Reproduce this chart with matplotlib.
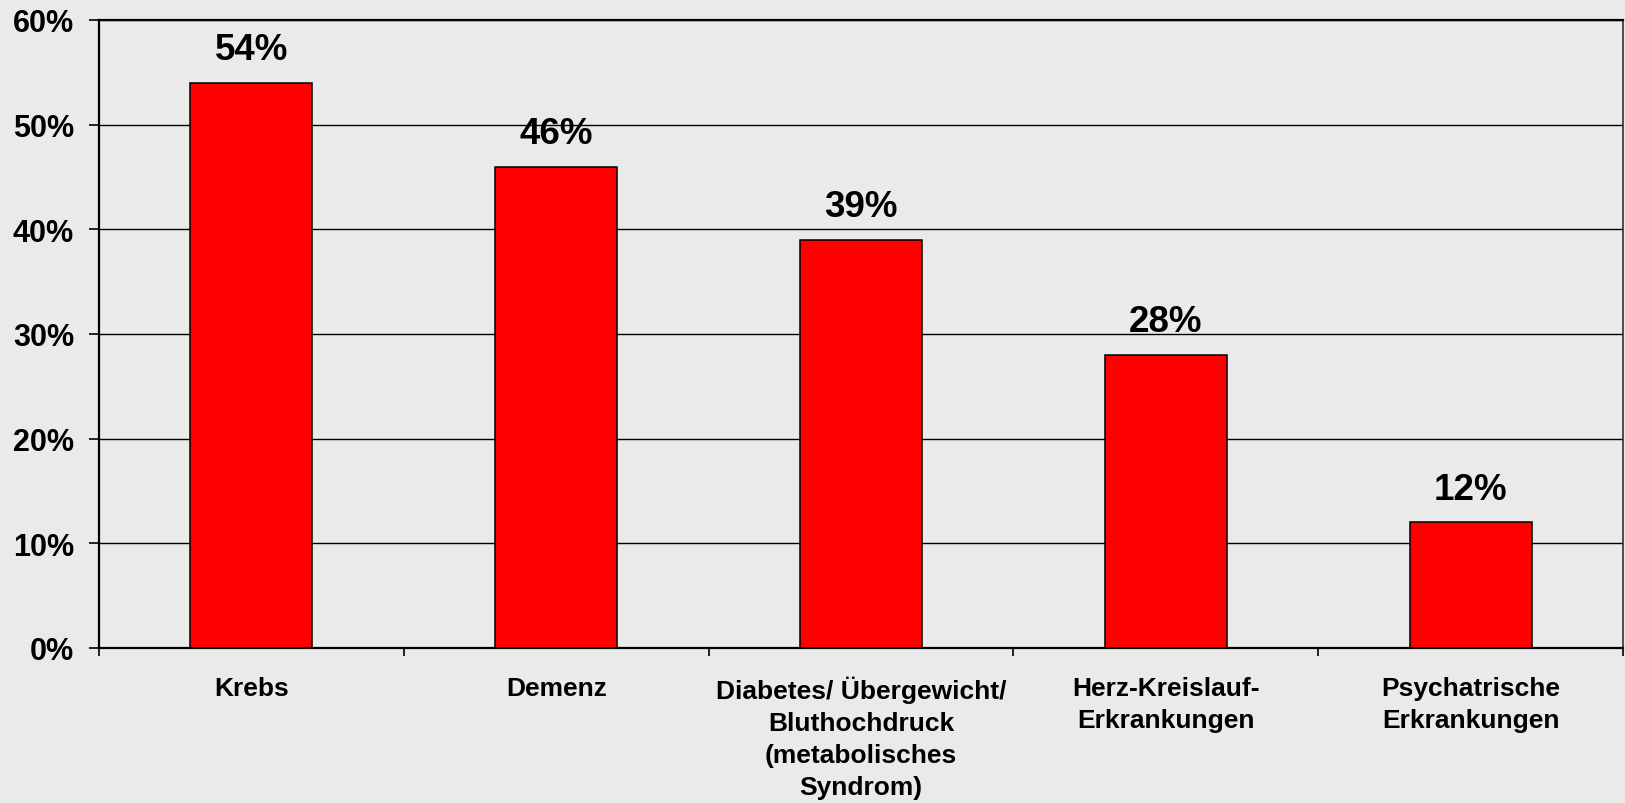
import matplotlib.pyplot as plt

plt.rcParams['font.family'] = ['Liberation Sans', 'DejaVu Sans']
plt.rcParams['font.weight'] = 'bold'

categories = [
    "Krebs",
    "Demenz",
    "Diabetes/ Übergewicht/\nBluthochdruck\n(metabolisches\nSyndrom)",
    "Herz-Kreislauf-\nErkrankungen",
    "Psychatrische\nErkrankungen",
]
values = [54, 46, 39, 28, 12]
yticks = [0, 10, 20, 30, 40, 50, 60]

BG = "#eaeaea"

fig = plt.figure(figsize=(16.25, 8.04), dpi=100, facecolor=BG)
ax = fig.add_axes([0.0609, 0.1928, 0.9379, 0.7811], facecolor=BG)

x = list(range(len(categories)))
bars = ax.bar(x, values, width=0.40, color="#ff0000", edgecolor="black",
              linewidth=1.1, zorder=3)
for b, v in zip(bars, values):
    ax.annotate(f"{v}%", (b.get_x() + b.get_width() / 2, v),
                xytext=(0, 17), textcoords="offset points",
                ha="center", va="baseline", fontsize=26.5, fontweight="bold")

ax.set_xlim(-0.5, len(categories) - 0.5)
ax.set_ylim(0, 60)
ax.set_yticks(yticks)
ax.set_yticklabels([f"{t}%" for t in yticks], fontsize=22, fontweight="bold")
ax.yaxis.grid(True, color="black", linewidth=1.0, zorder=1)
ax.set_axisbelow(True)

# categories sit between ticks, ticks mark the boundaries
ax.set_xticks([i - 0.5 for i in range(len(categories) + 1)])
ax.set_xticklabels([])
ax.set_xticks(x, minor=True)
ax.set_xticklabels(categories, minor=True, fontsize=19, fontweight="bold",
                   linespacing=1.42)
ax.tick_params(axis="x", which="major", direction="out", length=6,
               width=1.2, color="black")
ax.tick_params(axis="x", which="minor", length=0, pad=20)
ax.tick_params(axis="y", direction="out", length=7, width=1.2, pad=11)

for side in ("left", "bottom", "top"):
    ax.spines[side].set_linewidth(1.6)
    ax.spines[side].set_color("black")
ax.spines["right"].set_linewidth(1.2)
ax.spines["right"].set_color("#333333")

fig.savefig("out.png", dpi=100, facecolor=BG)
